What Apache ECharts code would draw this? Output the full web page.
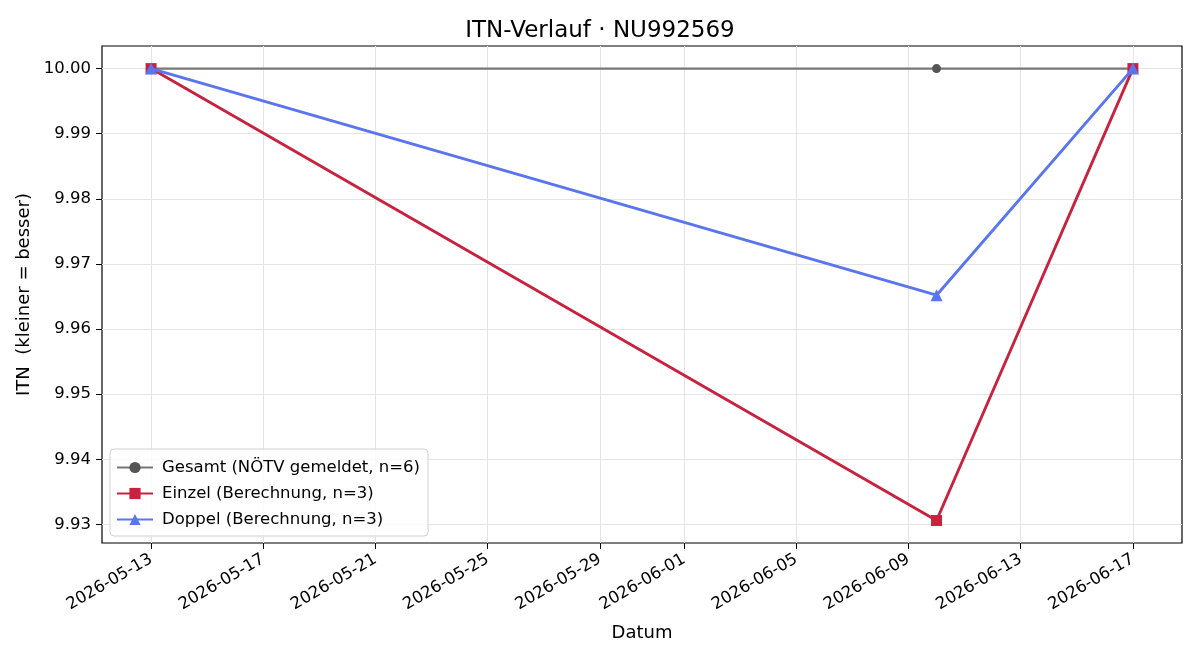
<!DOCTYPE html>
<html>
<head>
    <meta charset="utf-8">
    <title>ITN-Verlauf</title>
    <script type="text/javascript" src="https://cdn.jsdelivr.net/npm/echarts@6/dist/echarts.min.js"></script>
</head>
<body style="margin:0;background:#fff;">
<div id="main" style="width:1200px;height:660px;"></div>
<script type="text/javascript">
    // Daten
    var dates = ['2026-05-13', '2026-06-10', '2026-06-17'];
    var gesamt = [10.0, 10.0, 10.0];
    var einzel = [10.0, 9.9306, 10.0];
    var doppel = [10.0, 9.9652, 10.0];
    var xTicks = ['2026-05-13', '2026-05-17', '2026-05-21', '2026-05-25', '2026-05-29',
                  '2026-06-01', '2026-06-05', '2026-06-09', '2026-06-13', '2026-06-17'];
    var yTicks = [9.93, 9.94, 9.95, 9.96, 9.97, 9.98, 9.99, 10.00];

    var DAY = 86400000;
    function ts(d) { return Date.parse(d + 'T00:00:00Z'); }
    function pad(n) { return n < 10 ? '0' + n : '' + n; }
    function fmt(v) {
        var d = new Date(v);
        return d.getUTCFullYear() + '-' + pad(d.getUTCMonth() + 1) + '-' + pad(d.getUTCDate());
    }
    function pairs(vals) {
        return dates.map(function (d, i) { return [ts(d), vals[i]]; });
    }

    var font = 'DejaVu Sans';
    var myChart = echarts.init(document.getElementById('main'));
    var option = {
        animation: false,
        backgroundColor: '#fff',
        textStyle: { fontFamily: font },
        title: {
            text: 'ITN-Verlauf · NU992569',
            left: 'center',
            top: 15,
            textStyle: { fontFamily: font, fontSize: 23, fontWeight: 'normal', color: '#000' }
        },
        grid: {
            left: 102, right: 18, top: 46, bottom: 117,
            show: true, borderColor: '#000', borderWidth: 1.2, backgroundColor: 'transparent'
        },
        legend: {
            orient: 'vertical',
            left: 110, top: 449,
            padding: [10, 8, 8, 6],
            itemGap: 9,
            itemWidth: 36, itemHeight: 14,
            backgroundColor: 'rgba(255,255,255,0.85)',
            borderColor: '#d0d0d0', borderWidth: 1, borderRadius: 4,
            textStyle: { fontFamily: font, fontSize: 16.5, color: '#000', padding: [0, 0, 0, 4] },
            data: ['Gesamt (NÖTV gemeldet, n=6)', 'Einzel (Berechnung, n=3)', 'Doppel (Berechnung, n=3)']
        },
        xAxis: {
            type: 'value',
            min: ts(dates[0]) - 1.75 * DAY,
            max: ts(dates[2]) + 1.75 * DAY,
            name: 'Datum',
            nameLocation: 'middle',
            nameGap: 81,
            nameTextStyle: { fontFamily: font, fontSize: 18, color: '#000' },
            axisLine: { show: false },
            axisTick: { show: true, inside: false, length: 6, lineStyle: { color: '#000', width: 1 }, customValues: xTicks.map(ts) },
            axisLabel: {
                rotate: 30, fontFamily: font, fontSize: 16.5, color: '#000', margin: 15,
                customValues: xTicks.map(ts),
                formatter: function (v) { return fmt(v); }
            },
            splitLine: { show: true, lineStyle: { color: '#e4e4e4', width: 1 } }
        },
        yAxis: {
            type: 'value',
            min: 9.92715,
            max: 10.00347,
            name: 'ITN  (kleiner = besser)',
            nameLocation: 'middle',
            nameGap: 63,
            nameTextStyle: { fontFamily: font, fontSize: 18, color: '#000' },
            axisLine: { show: false },
            axisTick: { show: true, inside: false, length: 6, lineStyle: { color: '#000', width: 1 }, customValues: yTicks },
            axisLabel: {
                fontFamily: font, fontSize: 16.5, color: '#000', margin: 11,
                customValues: yTicks,
                formatter: function (v) { return v.toFixed(2); }
            },
            splitLine: { show: true, lineStyle: { color: '#e4e4e4', width: 1 } }
        },
        series: [
            {
                name: 'Gesamt (NÖTV gemeldet, n=6)',
                type: 'line',
                data: pairs(gesamt),
                symbol: 'circle', symbolSize: 9,
                lineStyle: { color: '#777', width: 2.2 },
                itemStyle: { color: '#555', opacity: 1 },
                z: 2
            },
            {
                name: 'Einzel (Berechnung, n=3)',
                type: 'line',
                data: pairs(einzel),
                symbol: 'rect', symbolSize: 11,
                lineStyle: { color: '#c8223f', width: 2.9 },
                itemStyle: { color: '#c8223f' },
                z: 3
            },
            {
                name: 'Doppel (Berechnung, n=3)',
                type: 'line',
                data: pairs(doppel),
                symbol: 'triangle', symbolSize: 12,
                lineStyle: { color: '#5a75f0', width: 2.9 },
                itemStyle: { color: '#5a75f0' },
                z: 4
            }
        ]
    };
    myChart.setOption(option);
</script>
</body>
</html>
